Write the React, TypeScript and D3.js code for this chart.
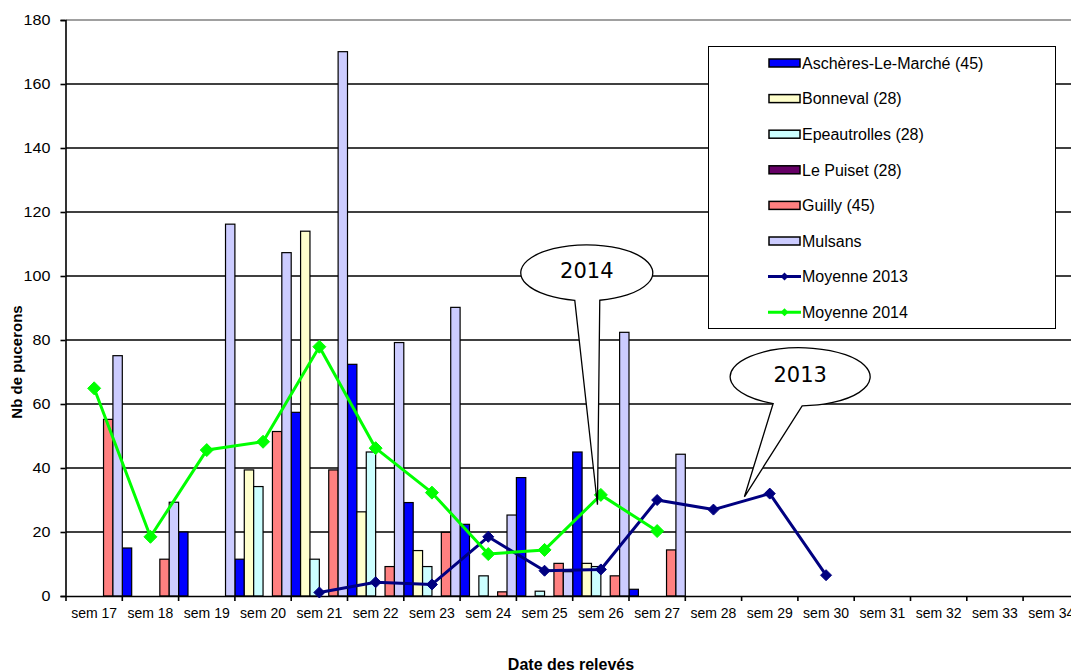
import React, { useEffect, useRef } from 'react';
import * as d3 from 'd3';

const WIDTH = 1071;
const HEIGHT = 671;

const weeks = [
  'sem 17', 'sem 18', 'sem 19', 'sem 20', 'sem 21', 'sem 22', 'sem 23', 'sem 24', 'sem 25',
  'sem 26', 'sem 27', 'sem 28', 'sem 29', 'sem 30', 'sem 31', 'sem 32', 'sem 33', 'sem 34'
];

const aschères = [null, 15, 20, 11.5, 57.4, 72.4, 29.2, 22.4, 37, 45, 2.1];
const bonneval = [null, null, null, 39.4, 114, 26.3, 14.2, null, null, 10.2, null];
const epeautrolles = [null, null, null, 34.2, 11.5, 45, 9.2, 6.3, 1.5, 9.2, null];
const lePuiset: (number | null)[] = [];
const guilly = [55.2, 11.5, null, 51.4, 39.4, 9.2, 19.9, 1.3, 10.2, 6.3, 14.4];
const mulsans = [75.1, 29.3, 116.2, 107.3, 170.1, 79.2, 90.2, 25.3, 7.6, 82.4, 44.3];

const moyenne2013 = [null, null, null, null, 1.1, 4.3, 3.6, 18.5, 7.9, 8.3, 30, 27, 32, 6.5];
const moyenne2014 = [64.9, 18.5, 45.6, 48.2, 77.9, 46.2, 32.3, 13.1, 14.4, 31.6, 20.3];

const yTicks = [0, 20, 40, 60, 80, 100, 120, 140, 160, 180];

interface BarSeries { name: string; values: (number | null)[]; color: string; }
interface LineSeries { name: string; values: (number | null)[]; color: string; marker: number; }

const barSeries: BarSeries[] = [
  { name: 'Aschères-Le-Marché (45)', values: aschères, color: '#0000ff' },
  { name: 'Bonneval (28)', values: bonneval, color: '#ffffcc' },
  { name: 'Epeautrolles (28)', values: epeautrolles, color: '#ccffff' },
  { name: 'Le Puiset (28)', values: lePuiset, color: '#660066' },
  { name: 'Guilly (45)', values: guilly, color: '#ff8080' },
  { name: 'Mulsans', values: mulsans, color: '#ccccff' }
];

const lineSeries: LineSeries[] = [
  { name: 'Moyenne 2013', values: moyenne2013, color: '#000080', marker: 5.5 },
  { name: 'Moyenne 2014', values: moyenne2014, color: '#00ff00', marker: 6.5 }
];

// callouts: tip and ellipse centre in data terms (week + fraction of band, value)
const callouts = [
  { label: '2014', tipWeek: 'sem 26', tipFrac: 0.44, tipValue: 28.5, cWeek: 'sem 26', cFrac: 0.25, cValue: 101, rx: 66, ry: 28, base: [-12, 13] },
  { label: '2013', tipWeek: 'sem 29', tipFrac: 0.05, tipValue: 31, cWeek: 'sem 30', cFrac: 0.04, cValue: 68.5, rx: 70, ry: 29, base: [-27, 2] }
];

const diamond = (r: number) => `M0,${-r}L${r},0L0,${r}L${-r},0Z`;

const FONT = '"Liberation Sans", Arial, sans-serif';

const Chart = () => {
  const svgRef = useRef<SVGSVGElement>(null);

  useEffect(() => {
    if (!svgRef.current) return;
    const svg = d3.select(svgRef.current);
    svg.selectAll('*').remove();

    const margin = { top: 20, left: 66, bottom: 596 };
    const step = 56.3;

    const x = d3.scaleBand<string>()
      .domain(weeks)
      .range([margin.left, margin.left + step * weeks.length])
      .padding(0);

    const xInner = d3.scaleBand<string>()
      .domain(barSeries.map(s => s.name))
      .range([0, x.bandwidth()])
      .padding(0);

    const y = d3.scaleLinear().domain([0, 180]).range([margin.bottom, margin.top]);

    const plotRight = margin.left + step * weeks.length;

    // gridlines
    svg.append('g')
      .selectAll('line')
      .data(yTicks.filter(t => t > 0))
      .join('line')
      .attr('x1', margin.left)
      .attr('x2', plotRight)
      .attr('y1', d => y(d))
      .attr('y2', d => y(d))
      .attr('stroke', d => (d === 180 ? '#808080' : '#000'))
      .attr('stroke-width', d => (d === 180 ? 1.5 : 1.6));

    // bars
    barSeries.forEach(s => {
      svg.append('g')
        .selectAll('rect')
        .data(s.values.map((v, i) => ({ week: weeks[i], v })).filter(d => d.v != null))
        .join('rect')
        .attr('x', d => (x(d.week) as number) + (xInner(s.name) as number))
        .attr('y', d => y(d.v as number))
        .attr('width', xInner.bandwidth())
        .attr('height', d => y(0) - y(d.v as number))
        .attr('fill', s.color)
        .attr('stroke', '#000')
        .attr('stroke-width', 1.2);
    });

    // axes
    const yAxis = d3.axisLeft(y).tickValues(yTicks).tickSize(5).tickPadding(9);
    const gy = svg.append('g')
      .attr('transform', `translate(${margin.left - 0.5},0)`)
      .call(yAxis);
    gy.select('.domain').attr('stroke', '#000').attr('stroke-width', 1.6);
    gy.selectAll('.tick line').attr('stroke', '#000').attr('stroke-width', 1.6);
    gy.selectAll('.tick text')
      .attr('fill', '#000')
      .attr('transform', 'scale(1.15,1)')
      .attr('x', -14 / 1.15 - 1)
      .style('font-family', FONT)
      .style('font-size', '14px');

    const xAxis = d3.axisBottom(x).tickSize(0).tickPadding(12);
    const gx = svg.append('g')
      .attr('transform', `translate(0,${margin.bottom})`)
      .call(xAxis);
    gx.select('.domain').attr('stroke', '#000').attr('stroke-width', 1.6);
    gx.selectAll('.tick text')
      .attr('fill', '#000')
      .style('font-family', FONT)
      .style('font-size', '14px');

    svg.append('g')
      .selectAll('line')
      .data([...weeks.map(w => x(w) as number), plotRight])
      .join('line')
      .attr('x1', d => d)
      .attr('x2', d => d)
      .attr('y1', margin.bottom)
      .attr('y2', margin.bottom + 5)
      .attr('stroke', '#000')
      .attr('stroke-width', 1.6);

    // lines
    lineSeries.forEach(s => {
      const pts = s.values
        .map((v, i) => ({ week: weeks[i], v }))
        .filter(d => d.v != null);
      const line = d3.line<{ week: string; v: number | null }>()
        .x(d => (x(d.week) as number) + x.bandwidth() / 2)
        .y(d => y(d.v as number));
      svg.append('path')
        .datum(pts)
        .attr('fill', 'none')
        .attr('stroke', s.color)
        .attr('stroke-width', 3)
        .attr('stroke-linejoin', 'round')
        .attr('d', line);
      svg.append('g')
        .selectAll('path')
        .data(pts)
        .join('path')
        .attr('transform', d => `translate(${(x(d.week) as number) + x.bandwidth() / 2},${y(d.v as number)})`)
        .attr('d', diamond(s.marker))
        .attr('fill', s.color)
        .attr('stroke', s.color)
        .attr('stroke-width', 1);
    });

    // axis titles
    svg.append('text')
      .attr('transform', `translate(22,362) rotate(-90)`)
      .attr('text-anchor', 'middle')
      .style('font-family', FONT)
      .style('font-size', '15px')
      .style('font-weight', 'bold')
      .text('Nb de pucerons');

    svg.append('text')
      .attr('x', 571)
      .attr('y', 670)
      .attr('text-anchor', 'middle')
      .style('font-family', FONT)
      .style('font-size', '16px')
      .style('font-weight', 'bold')
      .text('Date des relevés');

    // legend
    const lg = svg.append('g');
    lg.append('rect')
      .attr('x', 708.5).attr('y', 46.5)
      .attr('width', 347).attr('height', 282)
      .attr('fill', '#fff')
      .attr('stroke', '#000')
      .attr('stroke-width', 1);
    const legendItems = [
      ...barSeries.map(s => ({ name: s.name, color: s.color, kind: 'bar' as const, marker: 0 })),
      ...lineSeries.map(s => ({ name: s.name, color: s.color, kind: 'line' as const, marker: s.marker }))
    ];
    legendItems.forEach((item, i) => {
      const cy = 63 + i * 35.6;
      if (item.kind === 'bar') {
        lg.append('rect')
          .attr('x', 769).attr('y', cy - 4)
          .attr('width', 31).attr('height', 8)
          .attr('fill', item.color)
          .attr('stroke', '#000')
          .attr('stroke-width', 1.5);
      } else {
        lg.append('line')
          .attr('x1', 768).attr('x2', 801)
          .attr('y1', cy).attr('y2', cy)
          .attr('stroke', item.color)
          .attr('stroke-width', 3);
        lg.append('path')
          .attr('transform', `translate(784.5,${cy})`)
          .attr('d', diamond(4))
          .attr('fill', item.color);
      }
      lg.append('text')
        .attr('x', 802)
        .attr('y', cy)
        .attr('dy', '0.36em')
        .style('font-family', FONT)
        .style('font-size', '16px')
        .attr('fill', '#000')
        .text(item.name);
    });

    // callouts
    callouts.forEach(c => {
      const cx = (x(c.cWeek) as number) + x.bandwidth() * c.cFrac;
      const cy = y(c.cValue);
      const tx = (x(c.tipWeek) as number) + x.bandwidth() * c.tipFrac;
      const ty = y(c.tipValue);
      const by = (dx: number) => cy + c.ry * Math.sqrt(1 - (dx / c.rx) ** 2);
      const [b1, b2] = c.base;
      const p = d3.path();
      p.moveTo(cx + b1, by(b1));
      p.lineTo(tx, ty);
      p.lineTo(cx + b2, by(b2));
      const d = p.toString() + `A${c.rx},${c.ry} 0 1 0 ${cx + b1},${by(b1)}Z`;
      svg.append('path')
        .attr('d', d)
        .attr('fill', '#fff')
        .attr('stroke', '#000')
        .attr('stroke-width', 1.3);
      svg.append('text')
        .attr('x', cx)
        .attr('y', cy - 2)
        .attr('dy', '0.36em')
        .attr('text-anchor', 'middle')
        .style('font-family', '"DejaVu Sans", Verdana, sans-serif')
        .style('font-size', '21px')
        .attr('fill', '#000')
        .text(c.label);
    });
  }, []);

  return (
    <svg
      ref={svgRef}
      width={WIDTH}
      height={HEIGHT}
      style={{ position: 'absolute', left: 0, top: 0, background: '#fff', display: 'block' }}
    />
  );
};

export default function App() {
  return <Chart />;
}
